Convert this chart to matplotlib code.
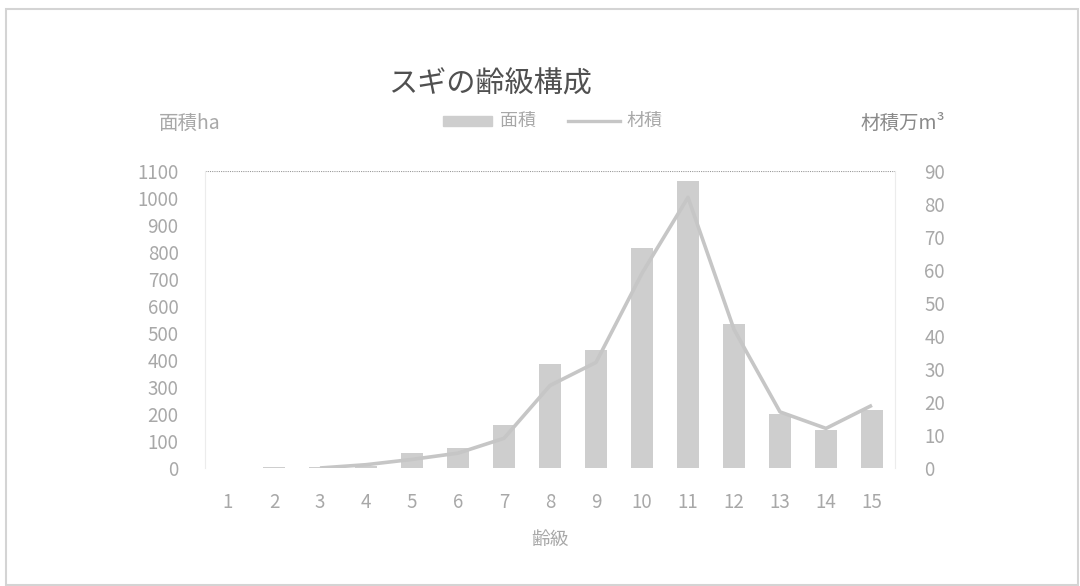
import matplotlib
matplotlib.use("Agg")
import matplotlib.pyplot as plt
import numpy as np
from matplotlib.patches import Rectangle

plt.rcParams['font.family'] = ['Noto Sans CJK JP', 'DejaVu Sans']

# 齢級ごとの面積(ha)と材積(万m3)
age_class = list(range(1, 16))
area_ha = [0, 3, 2, 8, 55, 74, 159, 385, 437, 815, 1063, 533, 200, 139, 213]
volume = [np.nan, np.nan, 0, 1, 2.6, 4.5, 9, 25, 32, 59, 82, 42, 17, 12, 19]

bar_col = '#cecece'
line_col = '#c6c6c6'
txt_col = '#a8a8a8'

fig = plt.figure(figsize=(10.8, 5.86), dpi=100)
ax = fig.add_axes([205/1080, 1-468/586, 690/1080, 297/586])
ax2 = ax.twinx()

ax.bar(age_class, area_ha, width=0.46, color=bar_col, zorder=2)
ax2.plot(age_class, volume, color=line_col, lw=2.6, solid_capstyle='butt')

ax.set_xlim(0.5, 15.5)
ax.set_ylim(0, 1100)
ax2.set_ylim(0, 90)
ax.set_yticks(range(0, 1101, 100))
ax2.set_yticks(range(0, 91, 10))
ax.set_xticks(age_class)

# only the top gridline survives in the original
ax.axhline(1100, color='#9a9a9a', lw=0.8, ls=(0, (1, 1)), zorder=1)

for a in (ax, ax2):
    for s in a.spines.values():
        s.set_visible(False)
    a.tick_params(length=0, colors=txt_col, labelsize=13.5)
ax.spines['left'].set_visible(True)
ax.spines['left'].set_color('#ececec')
ax2.spines['right'].set_visible(True)
ax2.spines['right'].set_color('#ececec')
ax.tick_params(axis='y', pad=19)
ax.tick_params(axis='x', pad=17)
ax2.tick_params(axis='y', pad=21)

ax.set_xlabel('齢級', color=txt_col, fontsize=13.5, labelpad=12)

fig.text(490/1080, 1-85/586, 'スギの齢級構成', fontsize=21, color='#505050',
         ha='center', va='center')
fig.text(159/1080, 1-123/586, '面積ha', fontsize=14, color=txt_col,
         ha='left', va='center')
fig.text(945/1080, 1-123/586, '材積万m³', fontsize=14, color='#8a8a8a',
         ha='right', va='center')

# legend
fig.patches.append(Rectangle((443/1080, 1-126/586), 49/1080, 10/586,
                             transform=fig.transFigure, color=bar_col))
fig.text(500/1080, 1-121/586, '面積', fontsize=13, color=txt_col,
         ha='left', va='center')
fig.lines.append(plt.Line2D([568/1080, 620/1080], [1-121/586, 1-121/586],
                            transform=fig.transFigure, color=line_col, lw=2.4))
fig.text(626/1080, 1-121/586, '材積', fontsize=13, color=txt_col,
         ha='left', va='center')

# outer border
fig.patches.append(Rectangle((6/1080, 0.002), 1072/1080, 1-9/586-0.002,
                             transform=fig.transFigure, fill=False,
                             edgecolor='#d4d4d4', lw=1.5))

fig.savefig('out.png', dpi=100, facecolor='white')
